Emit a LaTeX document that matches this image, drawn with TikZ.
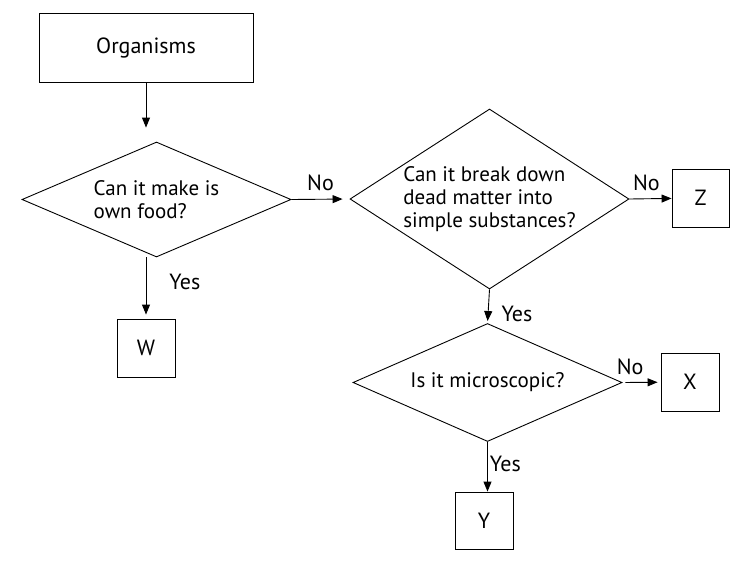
\documentclass[tikz,border=0pt]{standalone}
\usepackage{fontspec}
\setmainfont{PT Sans}
\usetikzlibrary{shapes.geometric, arrows.meta}

\begin{document}
\begin{tikzpicture} [x=1pt, y=-1pt]

      \tikzstyle{box_style} = [rectangle, draw, line width=0.9pt, inner sep=0pt, text centered, font=\fontsize{22}{23}\selectfont]
        \tikzstyle{decision} = [diamond, draw, line width=0.9pt, inner sep=0pt, align=left, font=\fontsize{21}{23}\selectfont]
            \tikzstyle{answer} = [inner sep=1pt, font=\fontsize{22}{23}\selectfont]

            \useasboundingbox (0,0) rectangle (754,565);

            \draw
              (146.0, 47.5) node[box_style, minimum width=214pt, minimum height=69pt] (0){Organisms}
              (156.5, 199.5) node[decision, aspect=2.3, minimum width=269pt, minimum height=115pt] (1){Can it make is\\own food?}
              (489.5, 199.0) node[decision, aspect=1.55, minimum width=279pt, minimum height=180pt] (2){Can it break down\\dead matter into\\simple substances?}
              (700.5, 198.0) node[box_style, minimum width=57pt, minimum height=58pt] (3){Z}
              (146.0, 348.0) node[box_style, minimum width=58pt, minimum height=58pt] (4){W}
              (487.5, 382.5) node[decision, aspect=2.3, minimum width=269pt, minimum height=118pt] (5){Is it microscopic?}
              (690.0, 382.0) node[box_style, minimum width=58pt, minimum height=58pt] (6){X}
              (484.0, 520.5) node[box_style, minimum width=58pt, minimum height=57pt] (7){Y};

      \begin{scope}[-{Triangle[length=10pt, width=8pt]}, line width=0.9pt]
        \draw[shorten >=14pt] (0) to (0.south |- 1.north);
        \draw[shorten >=4pt] (1.south -| 4.north) to node[answer, pos=0.4, right=22pt] {Yes} (4);
        \draw[shorten >=7pt] (1.east) to node[answer, above=7pt] {No} (2.west);
        \draw (2.east) to node[answer, pos=0.4, above=7pt] {No} (3);
        \draw[shorten >=2pt] (2.south) to node[answer, pos=0.72, right=12pt] {Yes} (5.north);
        \draw[shorten <=3pt, shorten >=3pt] (5.east) to node[answer, pos=0.2, above=6pt] {No} (6);
        \draw (5.south) to node[answer, pos=0.45, right=1pt] {Yes} (5.south |- 7.north);
      \end{scope}
    \end{tikzpicture}
\end{document}
